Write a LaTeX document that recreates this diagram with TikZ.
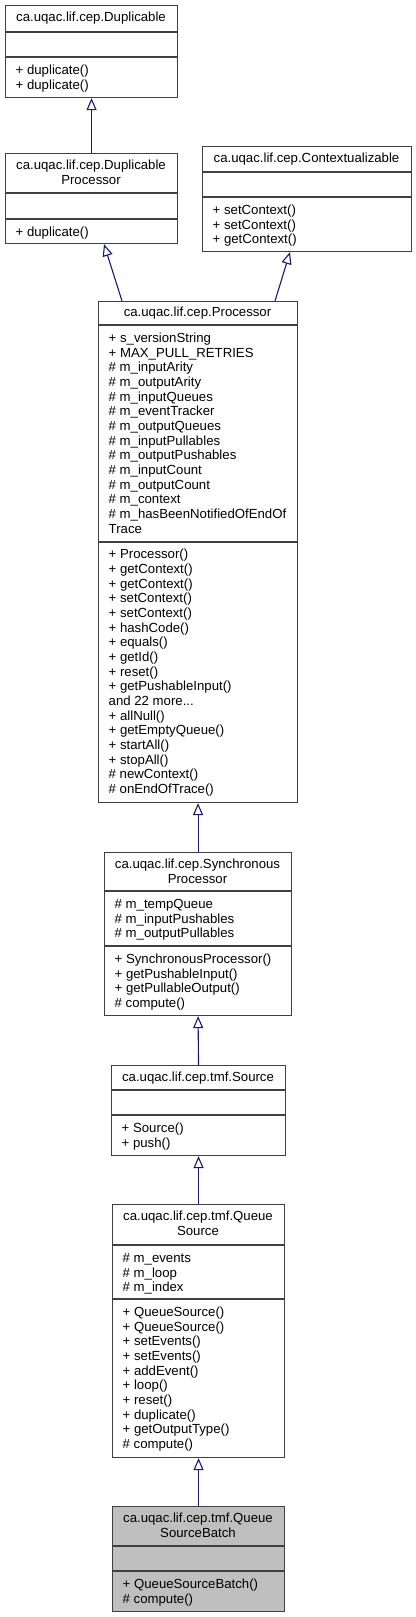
\documentclass[tikz,border=0pt]{standalone}
\usepackage{fontspec}
\setmainfont{Liberation Sans}
\usetikzlibrary{arrows.meta}
\definecolor{edgeblue}{HTML}{191970}
\definecolor{boxgray}{HTML}{404040}
\definecolor{hlfill}{HTML}{BFBFBF}
\newcommand{\ls}{\rule[-4pt]{0pt}{14.67pt}}
\tikzset{
  cls/.style={draw=boxgray, line width=1.1pt, fill=white, inner sep=0pt, anchor=north west, rectangle},
  hl/.style={fill=hlfill},
  sepline/.style={draw=boxgray, line width=1.1pt},
  ttl/.style={inner sep=0pt, anchor=north, align=center, font=\fontsize{13.2}{14.67}\selectfont},
  lst/.style={inner sep=0pt, anchor=north west, align=left, font=\fontsize{13.2}{14.67}\selectfont},
  inh/.style={draw=edgeblue, line width=1.1pt, -{Triangle[length=12pt, width=10pt, fill=white]}}
}
\begin{document}
\begin{tikzpicture}[x=1pt,y=-1pt]
\useasboundingbox (0,0) rectangle (415,1617);

% Duplicable
\node[cls, minimum width=172pt, minimum height=92pt] (dup) at (5,5) {};
\draw[sepline] (dup.west |- 0,32) -- (dup.east |- 0,32);
\draw[sepline] (dup.west |- 0,57) -- (dup.east |- 0,57);
\node[ttl] (dupT) at (91,11) {\ls ca.uqac.lif.cep.Duplicable};
\node[lst] (dupM) at (15.5,63.5) {\ls + duplicate()\\\ls + duplicate()};

% DuplicableProcessor
\node[cls, minimum width=172pt, minimum height=90pt] (dproc) at (5,153) {};
\draw[sepline] (dproc.west |- 0,193) -- (dproc.east |- 0,193);
\draw[sepline] (dproc.west |- 0,219) -- (dproc.east |- 0,219);
\node[ttl] (dprocT) at (91,159) {\ls ca.uqac.lif.cep.Duplicable\\\ls Processor};
\node[lst] (dprocM) at (15.5,225.5) {\ls + duplicate()};

% Contextualizable
\node[cls, minimum width=209pt, minimum height=105pt] (ctx) at (202,146) {};
\draw[sepline] (ctx.west |- 0,172) -- (ctx.east |- 0,172);
\draw[sepline] (ctx.west |- 0,197) -- (ctx.east |- 0,197);
\node[ttl] (ctxT) at (306.5,152) {\ls ca.uqac.lif.cep.Contextualizable};
\node[lst] (ctxM) at (212.5,203.5) {\ls + setContext()\\\ls + setContext()\\\ls + getContext()};

% Processor
\node[cls, minimum width=199pt, minimum height=501pt] (proc) at (98,301) {};
\draw[sepline] (proc.west |- 0,325) -- (proc.east |- 0,325);
\draw[sepline] (proc.west |- 0,542) -- (proc.east |- 0,542);
\node[ttl] (procT) at (197.5,306) {\ls ca.uqac.lif.cep.Processor};
\node[lst] (procA) at (108.5,331.5) {\ls + s\_versionString\\\ls + MAX\_PULL\_RETRIES\\\ls \# m\_inputArity\\\ls \# m\_outputArity\\\ls \# m\_inputQueues\\\ls \# m\_eventTracker\\\ls \# m\_outputQueues\\\ls \# m\_inputPullables\\\ls \# m\_outputPushables\\\ls \# m\_inputCount\\\ls \# m\_outputCount\\\ls \# m\_context\\\ls \# m\_hasBeenNotifiedOfEndOf\\\ls Trace};
\node[lst] (procM) at (108.5,548) {\ls + Processor()\\\ls + getContext()\\\ls + getContext()\\\ls + setContext()\\\ls + setContext()\\\ls + hashCode()\\\ls + equals()\\\ls + getId()\\\ls + reset()\\\ls + getPushableInput()\\\ls and 22 more...\\\ls + allNull()\\\ls + getEmptyQueue()\\\ls + startAll()\\\ls + stopAll()\\\ls \# newContext()\\\ls \# onEndOfTrace()};

% SynchronousProcessor
\node[cls, minimum width=187pt, minimum height=163pt] (sync) at (104,852) {};
\draw[sepline] (sync.west |- 0,891) -- (sync.east |- 0,891);
\draw[sepline] (sync.west |- 0,946) -- (sync.east |- 0,946);
\node[ttl] (syncT) at (197.5,857.5) {\ls ca.uqac.lif.cep.Synchronous\\\ls Processor};
\node[lst] (syncA) at (114.5,897.5) {\ls \# m\_tempQueue\\\ls \# m\_inputPushables\\\ls \# m\_outputPullables};
\node[lst] (syncM) at (114.5,952.5) {\ls + SynchronousProcessor()\\\ls + getPushableInput()\\\ls + getPullableOutput()\\\ls \# compute()};

% Source
\node[cls, minimum width=174pt, minimum height=90pt] (src) at (111,1065) {};
\draw[sepline] (src.west |- 0,1090) -- (src.east |- 0,1090);
\draw[sepline] (src.west |- 0,1115) -- (src.east |- 0,1115);
\node[ttl] (srcT) at (198,1070.5) {\ls ca.uqac.lif.cep.tmf.Source};
\node[lst] (srcM) at (121.5,1121.5) {\ls + Source()\\\ls + push()};

% QueueSource
\node[cls, minimum width=172pt, minimum height=253pt] (qs) at (112,1204) {};
\draw[sepline] (qs.west |- 0,1245) -- (qs.east |- 0,1245);
\draw[sepline] (qs.west |- 0,1299) -- (qs.east |- 0,1299);
\node[ttl] (qsT) at (198,1210) {\ls ca.uqac.lif.cep.tmf.Queue\\\ls Source};
\node[lst] (qsA) at (122.5,1251.5) {\ls \# m\_events\\\ls \# m\_loop\\\ls \# m\_index};
\node[lst] (qsM) at (122.5,1305.5) {\ls + QueueSource()\\\ls + QueueSource()\\\ls + setEvents()\\\ls + setEvents()\\\ls + addEvent()\\\ls + loop()\\\ls + reset()\\\ls + duplicate()\\\ls + getOutputType()\\\ls \# compute()};

% QueueSourceBatch
\node[cls, hl, minimum width=172pt, minimum height=105pt] (qsb) at (112,1506) {};
\draw[sepline] (qsb.west |- 0,1546) -- (qsb.east |- 0,1546);
\draw[sepline] (qsb.west |- 0,1571) -- (qsb.east |- 0,1571);
\node[ttl] (qsbT) at (198,1512) {\ls ca.uqac.lif.cep.tmf.Queue\\\ls SourceBatch};
\node[lst] (qsbM) at (122.5,1577.5) {\ls + QueueSourceBatch()\\\ls \# compute()};

% Inheritance connectors
\draw[inh] (dproc.north) -- (dup.south);
\draw[inh] ([xshift=24pt]proc.north west) -- ([xshift=99pt]dproc.south west);
\draw[inh] ([xshift=177pt]proc.north west) -- ([xshift=88pt]ctx.south west);
\draw[inh] (sync.north) -- (proc.south);
\draw[inh] (src.north) -- (sync.south);
\draw[inh] (qs.north) -- (src.south);
\draw[inh] (qsb.north) -- (qs.south);
\end{tikzpicture}
\end{document}
